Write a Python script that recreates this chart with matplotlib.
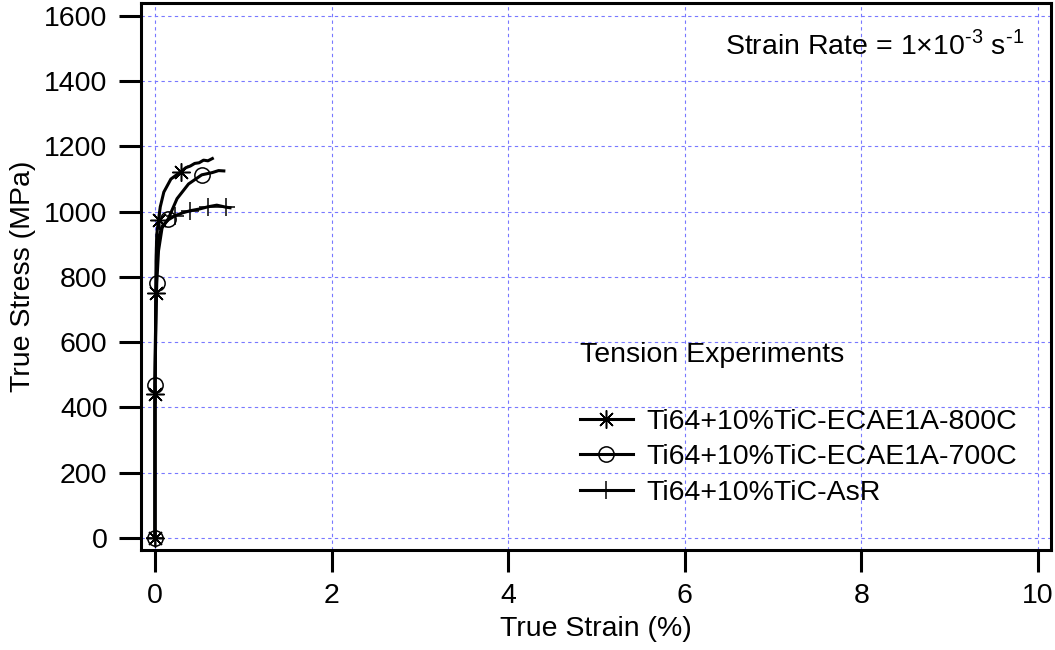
import matplotlib.pyplot as plt

plt.rcParams['font.family'] = ['Liberation Sans', 'DejaVu Sans']
plt.rcParams['mathtext.fontset'] = 'custom'
plt.rcParams['mathtext.rm'] = 'Liberation Sans'

# true strain (%) / true stress (MPa) for each tension test
strain_800 = [0.0, 0.0, 0.005, 0.01, 0.012, 0.02, 0.04, 0.06, 0.1, 0.18, 0.29, 0.35, 0.4, 0.45, 0.5, 0.55, 0.6, 0.65]
stress_800 = [0, 440, 600, 750, 850, 930, 975, 1015, 1060, 1100, 1122, 1135, 1140, 1148, 1150, 1158, 1156, 1163]
marks_800 = [0, 1, 3, 6, 10]

strain_700 = [0.0, 0.0, 0.01, 0.02, 0.04, 0.08, 0.15, 0.25, 0.38, 0.53, 0.65, 0.72, 0.78]
stress_700 = [0, 470, 650, 780, 880, 950, 978, 1040, 1085, 1113, 1120, 1126, 1125]
marks_700 = [0, 1, 3, 6, 9]

strain_asr = [0.0, 0.0, 0.01, 0.02, 0.04, 0.08, 0.15, 0.23, 0.32, 0.4, 0.5, 0.6, 0.7, 0.8, 0.85]
stress_asr = [0, 450, 750, 850, 920, 955, 975, 988, 997, 1003, 1008, 1015, 1020, 1014, 1012]
marks_asr = [0, 7, 9, 11, 13]

labels = ['Ti64+10%TiC-ECAE1A-800C', 'Ti64+10%TiC-ECAE1A-700C', 'Ti64+10%TiC-AsR']
fs = 20.5

fig = plt.figure(figsize=(10.55, 6.5), dpi=100)
ax = fig.add_axes([0.1336, 0.1538, 0.8626, 0.8416])

ax.plot(strain_800, stress_800, color='black', lw=2.2, marker=(8, 2, 0), ms=13,
        mew=1.1, markevery=marks_800, label=labels[0])
ax.plot(strain_700, stress_700, color='black', lw=2.2, marker='o', ms=11, mfc='none',
        mew=1.1, markevery=marks_700, label=labels[1])
ax.plot(strain_asr, stress_asr, color='black', lw=2.2, marker='+', ms=13,
        mew=1.1, markevery=marks_asr, label=labels[2])

ax.set_xlim(-0.159, 10.15)
ax.set_ylim(-37.6, 1640)
ax.set_xticks(range(0, 11, 2))
ax.set_yticks(range(0, 1601, 200))
ax.grid(True, color='#7878ff', ls=(0, (3, 3)), lw=0.8)
ax.set_axisbelow(True)

for s in ax.spines.values():
    s.set_linewidth(2.2)
ax.tick_params(direction='out', length=16, width=2.2, labelsize=fs)
ax.tick_params(axis='x', pad=8)
ax.tick_params(axis='y', pad=8)

ax.set_xlabel('True Strain (%)', fontsize=fs, labelpad=5)
ax.set_ylabel('True Stress (MPa)', fontsize=fs, labelpad=6)

ax.text(0.971, 0.922, r'Strain Rate = 1$\times$10$^{\text{-3}}$ s$^{\text{-1}}$',
        transform=ax.transAxes, ha='right', va='center', fontsize=fs)

ax.text(0.4824, 0.3565, 'Tension Experiments', transform=ax.transAxes,
        ha='left', va='center', fontsize=fs)
ax.legend(loc='upper left', bbox_to_anchor=(0.4824, 0.258), frameon=False, fontsize=fs,
          handlelength=1.85, handletextpad=0.5, labelspacing=0.33, borderpad=0,
          borderaxespad=0)

fig.savefig('out.png', dpi=100)
